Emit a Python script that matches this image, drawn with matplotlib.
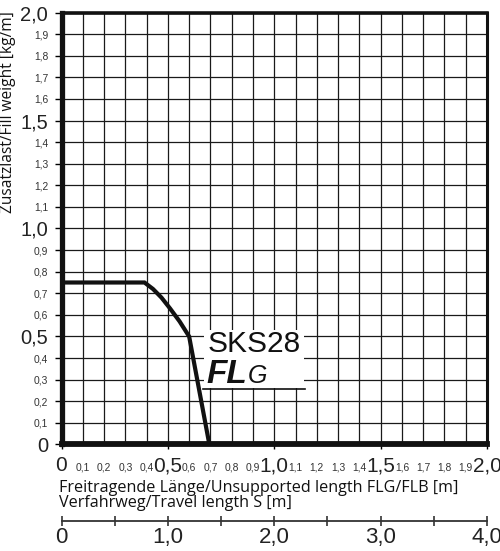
import numpy as np
import matplotlib
matplotlib.use('Agg')
import matplotlib.pyplot as plt
from matplotlib.patches import Rectangle

# curve SKS28 FLG (length [m] -> fill weight [kg/m])
length = [0.0, 0.39, 0.43, 0.47, 0.51, 0.555, 0.60, 0.695]
weight = [0.75, 0.75, 0.72, 0.68, 0.63, 0.57, 0.50, 0.0]

x_major = [0.0, 0.5, 1.0, 1.5, 2.0]
x_minor = [0.1, 0.2, 0.3, 0.4, 0.6, 0.7, 0.8, 0.9, 1.1, 1.2, 1.3, 1.4, 1.6, 1.7, 1.8, 1.9]
travel_major = [0, 1, 2, 3, 4]
travel_minor = [0.5, 1.5, 2.5, 3.5]

def fmt(v):
    if v == 0:
        return '0'
    return f'{v:.1f}'.replace('.', ',')

num_font = ['Liberation Sans', 'DejaVu Sans']
txt_font = ['Open Sans', 'DejaVu Sans']

fig = plt.figure(figsize=(5.0, 5.51), dpi=100)
ax = fig.add_axes([0.123, 0.1933, 0.851, 0.784])

ax.plot(length, weight, color='#111111', lw=3.0, solid_joinstyle='miter', zorder=5)

ax.set_xlim(0, 2)
ax.set_ylim(0, 2)
ax.grid(True, color='#1a1a1a', lw=0.9, zorder=1)
ax.set_axisbelow(True)

# x tick labels: big at halves, small at tenths
ax.set_xticks(x_major, labels=[fmt(v) for v in x_major],
              fontsize=15, family=num_font, color='#222222')
ax.set_xticks(x_minor, labels=[fmt(v) for v in x_minor], minor=True,
              fontsize=7.4, family=num_font, color='#333333')
ax.tick_params(axis='x', which='major', length=3.6, width=1, pad=15.5)
ax.tick_params(axis='x', which='minor', length=0, pad=19)
ax.xaxis.grid(True, which='minor', color='#1a1a1a', lw=0.9)
for lab in ax.get_xticklabels() + ax.get_xticklabels(minor=True):
    lab.set_verticalalignment('baseline')

y_all = [round(v, 1) for v in np.arange(0, 2.01, 0.1)]
ax.set_yticks(y_all, labels=[fmt(v) for v in y_all], family=num_font, color='#222222')
for v, lab in zip(y_all, ax.get_yticklabels()):
    if round(v * 10) % 5 == 0:
        lab.set_fontsize(14.5)
    else:
        lab.set_fontsize(7.4)
        lab.set_color('#333333')
ax.tick_params(axis='y', length=4.7, width=1, pad=5)

for side, lw in [('left', 3.8), ('bottom', 4.2), ('top', 2.6), ('right', 2.2)]:
    ax.spines[side].set_linewidth(lw)
    ax.spines[side].set_color('#111111')

# label block
ax.add_patch(Rectangle((0.67, 0.26), 0.47, 0.27, facecolor='white',
                       edgecolor='none', zorder=3))
ax.plot([0.665, 1.145], [0.257, 0.257], color='#111111', lw=1.2, zorder=4)
ax.text(0.685, 0.428, 'SKS28', fontsize=21.5, family='Liberation Sans',
        color='#111111', zorder=4, va='baseline')
ax.text(0.68, 0.283, 'FL', fontsize=24, family='Liberation Sans',
        style='italic', weight='bold', color='#111111', zorder=4, va='baseline')
ax.text(0.875, 0.283, 'G', fontsize=18, family='Liberation Sans',
        style='italic', color='#111111', zorder=4, va='baseline')

fig.text(0.016, 0.797, 'Zusatzlast/Fill weight [kg/m]', rotation=90,
         ha='center', va='center', fontsize=11.2, family=txt_font, color='#111111')
fig.text(0.118, 0.107, 'Freitragende Länge/Unsupported length FLG/FLB [m]',
         fontsize=11.6, family=txt_font, color='#111111', va='baseline')
fig.text(0.118, 0.080, 'Verfahrweg/Travel length S [m]',
         fontsize=11.6, family=txt_font, color='#111111', va='baseline')

# second scale: travel length
ax2 = fig.add_axes([0.123, (551 - 521) / 551, 0.851, 0.0001])
ax2.set_xlim(0, 4)
ax2.set_yticks([])
for side in ['left', 'right', 'top']:
    ax2.spines[side].set_visible(False)
ax2.spines['bottom'].set_linewidth(1.3)
ax2.spines['bottom'].set_color('#333333')
ax2.set_xticks(travel_major, labels=[fmt(v) for v in travel_major],
               fontsize=16, family=num_font, color='#222222')
ax2.set_xticks(travel_minor, minor=True)
ax2.tick_params(axis='x', which='both', direction='inout', length=7, width=1.2,
                color='#333333', pad=1)
ax2.patch.set_visible(False)

fig.savefig('out.png', dpi=100)
